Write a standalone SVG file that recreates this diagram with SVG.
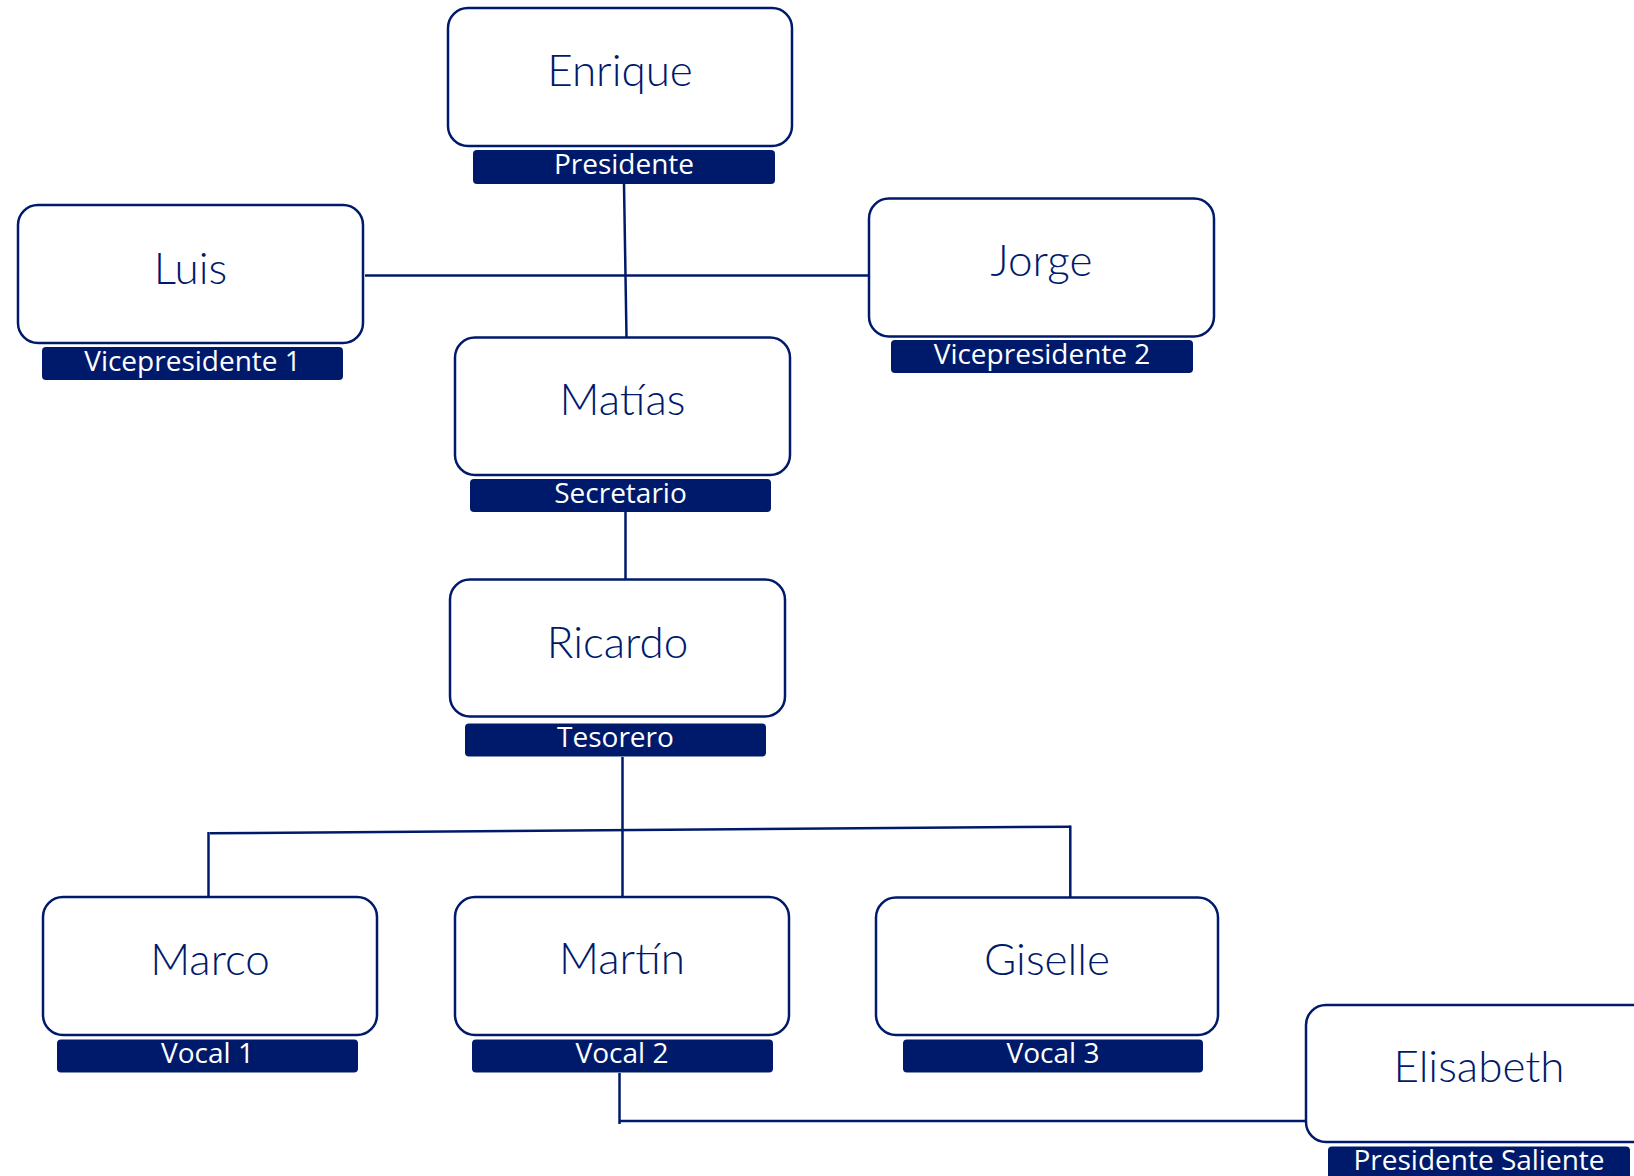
<svg xmlns="http://www.w3.org/2000/svg" width="1634" height="1176" viewBox="0 0 1634 1176">
<style>
.box{fill:#ffffff;stroke:#001a6b;stroke-width:2.5}
.bar{fill:#001a6b}
.name{font-family:Lato,"Open Sans","Liberation Sans",sans-serif;font-weight:300;font-size:44px;fill:#001a6b;text-anchor:middle}
.role{font-family:"Open Sans",Lato,"Liberation Sans",sans-serif;font-size:28px;fill:#ffffff;text-anchor:middle}
.ln{fill:none;stroke:#001a6b;stroke-width:2.5}
</style>
<rect width="1634" height="1176" fill="#ffffff"/>
<g id="connectors">
<line class="ln" x1="624" y1="184" x2="626.5" y2="337"/>
<line class="ln" x1="365" y1="275.5" x2="869" y2="275.5"/>
<line class="ln" x1="625.5" y1="512" x2="625.5" y2="579"/>
<line class="ln" x1="622.5" y1="757" x2="622.5" y2="897"/>
<line class="ln" x1="210" y1="833.3" x2="1070.5" y2="826.7"/>
<line class="ln" x1="208.5" y1="832" x2="208.5" y2="897"/>
<line class="ln" x1="1070.3" y1="825.5" x2="1070.3" y2="897.5"/>
<line class="ln" x1="619.5" y1="1073" x2="619.5" y2="1124"/>
<line class="ln" x1="620" y1="1121" x2="1306" y2="1121"/>
</g>
<g id="enrique">
<rect class="box" x="448" y="8" width="344" height="138" rx="20"/>
<rect class="bar" x="473" y="150" width="302" height="34" rx="4"/>
<text class="name" x="620" y="86">Enrique</text>
<text class="role" x="624" y="173.5">Presidente</text>
</g>
<g id="luis">
<rect class="box" x="18" y="205" width="345" height="138" rx="20"/>
<rect class="bar" x="42" y="347" width="301" height="33" rx="4"/>
<text class="name" x="190.5" y="284">Luis</text>
<text class="role" x="192.5" y="370.5">Vicepresidente 1</text>
</g>
<g id="jorge">
<rect class="box" x="869" y="198.5" width="345" height="138" rx="20"/>
<rect class="bar" x="891" y="340" width="302" height="33" rx="4"/>
<text class="name" x="1041.5" y="276">Jorge</text>
<text class="role" x="1042" y="363.5">Vicepresidente 2</text>
</g>
<g id="matias">
<rect class="box" x="455" y="337.5" width="335" height="137.5" rx="20"/>
<rect class="bar" x="470" y="479" width="301" height="33" rx="4"/>
<text class="name" x="622.5" y="415">Matías</text>
<text class="role" x="620.5" y="502.5">Secretario</text>
</g>
<g id="ricardo">
<rect class="box" x="450" y="579.5" width="335" height="137" rx="20"/>
<rect class="bar" x="465" y="723.5" width="301" height="33" rx="4"/>
<text class="name" x="617.5" y="658">Ricardo</text>
<text class="role" x="615.5" y="746.5">Tesorero</text>
</g>
<g id="marco">
<rect class="box" x="43" y="897" width="334" height="138" rx="20"/>
<rect class="bar" x="57" y="1039.5" width="301" height="33" rx="4"/>
<text class="name" x="210" y="975">Marco</text>
<text class="role" x="207.5" y="1062.5">Vocal 1</text>
</g>
<g id="martin">
<rect class="box" x="455" y="897" width="334" height="138" rx="20"/>
<rect class="bar" x="472" y="1039.5" width="301" height="33" rx="4"/>
<text class="name" x="622" y="974">Martín</text>
<text class="role" x="622" y="1062.5">Vocal 2</text>
</g>
<g id="giselle">
<rect class="box" x="876" y="897.5" width="342" height="137.5" rx="20"/>
<rect class="bar" x="903" y="1039.5" width="300" height="33" rx="4"/>
<text class="name" x="1047" y="975">Giselle</text>
<text class="role" x="1053" y="1062.5">Vocal 3</text>
</g>
<g id="elisabeth">
<rect class="box" x="1306" y="1005" width="346" height="137" rx="20"/>
<rect class="bar" x="1328" y="1146.5" width="302" height="34" rx="4"/>
<text class="name" x="1479" y="1082">Elisabeth</text>
<text class="role" x="1479" y="1170">Presidente Saliente</text>
</g>
</svg>
